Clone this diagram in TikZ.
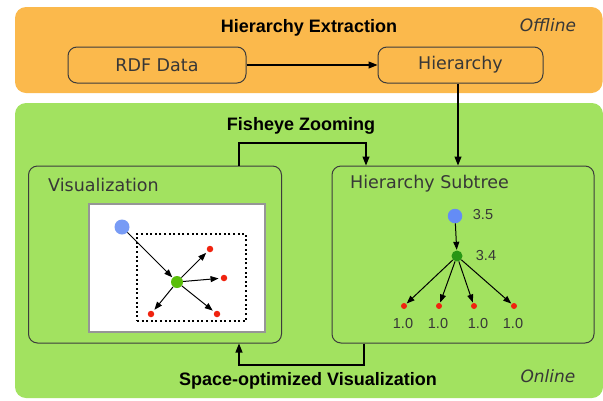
\documentclass[tikz,border=0pt]{standalone}
\usepackage{fontspec}
\setmainfont{DejaVu Sans}
\newfontfamily\arialf{Liberation Sans}
\usetikzlibrary{arrows.meta}
\definecolor{orangep}{RGB}{251,185,76}
\definecolor{greenp}{RGB}{162,226,96}
\definecolor{boxline}{RGB}{60,60,60}
\definecolor{labelc}{RGB}{55,55,55}
\definecolor{bluen}{RGB}{120,155,245}
\definecolor{bluen2}{RGB}{100,140,245}
\definecolor{limen}{RGB}{90,190,10}
\definecolor{darkgn}{RGB}{40,150,20}
\definecolor{redn}{RGB}{240,35,15}
\begin{document}
\begin{tikzpicture}[x=1pt,y=-1pt,
  panel/.style={rounded corners=11pt},
  ibox/.style={draw=boxline, line width=1pt, rounded corners=9pt, inner sep=0pt},
  lbl/.style={font=\fontsize{17.5}{20}\selectfont, text=labelc},
  title/.style={font=\arialf\bfseries\fontsize{18}{21}\selectfont, text=black},
  mode/.style={font=\itshape\fontsize{17}{20}\selectfont, text=labelc},
  num/.style={font=\arialf\fontsize{14.5}{17}\selectfont, text=labelc},
  conn/.style={line width=1.1pt, -{Triangle[length=9pt,width=7pt]}},
  tconn/.style={line width=1pt, -{Triangle[length=8pt,width=6pt]}, shorten >=0.5pt},
  dotn/.style={circle, inner sep=0pt, draw=none}
]
\useasboundingbox (0,0) rectangle (603,400);
\clip (0,0) rectangle (603,400);
% panels
\fill[orangep, panel] (15,7) rectangle (602.5,93);
\fill[greenp, panel] (15,103) rectangle (603,398);
% titles
\node[title] (ttop) at (309,28) {Hierarchy Extraction};
\node[mode] (off) at (548,25) {Offline};
\node[title] (tfish) at (301,126) {Fisheye Zooming};
\node[title] (tspace) at (308,381) {Space-optimized Visualization};
\node[mode] (onl) at (548,376) {Online};
% top boxes
\node[ibox, minimum width=178pt, minimum height=36pt, lbl] (rdf) at (157,65) {RDF Data};
\node[ibox, minimum width=165pt, minimum height=36pt, lbl] (hier) at (460.5,65) {Hierarchy};
% lower boxes
\node[ibox, minimum width=253pt, minimum height=177pt] (vis) at (155,254.5) {};
\node[ibox, minimum width=262pt, minimum height=177pt] (sub) at (463,254.5) {};
\node[lbl, anchor=west, inner sep=0pt] (vislbl) at (48,185) {Visualization};
\node[lbl, anchor=west, inner sep=0pt] (sublbl) at (350,184) {Hierarchy Subtree};
% connectors
\draw[conn] (rdf.east) -- (hier.west);
\draw[conn] (hier.south -| 458,0) -- (sub.north -| 458,0);
\coordinate (f1) at (239,143);
\coordinate (f2) at (366,143);
\draw[conn] (vis.north -| f1) -- (f1) -- (f2) -- (sub.north -| f2);
\coordinate (s1) at (364,365);
\coordinate (s2) at (239,365);
\draw[conn] (sub.south -| s1) -- (s1) -- (s2) -- (vis.south -| s2);
% white canvas
\node[draw={rgb,255:red,150;green,150;blue,150}, fill=white, line width=1.3pt, minimum width=176pt, minimum height=128pt, inner sep=0pt] (canvas) at (177,268) {};
\node[draw=black, line width=1.2pt, dash pattern=on 2pt off 2.6pt, minimum width=109pt, minimum height=87pt, inner sep=0pt] (dotbox) at (191.5,277.5) {};
% graph in canvas
\node[dotn, fill=bluen, minimum size=15pt] (vb) at (122,227) {};
\node[dotn, fill=limen, minimum size=12pt] (vg) at (177,282) {};
\node[dotn, fill=redn, minimum size=6.5pt] (vr1) at (210,249) {};
\node[dotn, fill=redn, minimum size=6.5pt] (vr2) at (224,278) {};
\node[dotn, fill=redn, minimum size=6.5pt] (vr3) at (151,314) {};
\node[dotn, fill=redn, minimum size=6.5pt] (vr4) at (217,314) {};
\draw[tconn] (vb) -- (vg);
\draw[tconn, shorten >=2pt] (vg) -- (vr1);
\draw[tconn, shorten >=2pt] (vg) -- (vr2);
\draw[tconn, shorten >=2pt] (vg) -- (vr3);
\draw[tconn, shorten >=2pt] (vg) -- (vr4);
% subtree
\node[dotn, fill=bluen2, minimum size=14.5pt] (tb) at (455,216) {};
\node[dotn, fill=darkgn, minimum size=11pt] (tg) at (457,256) {};
\node[dotn, fill=redn, minimum size=6pt] (tr1) at (404,306) {};
\node[dotn, fill=redn, minimum size=6pt] (tr2) at (439,306) {};
\node[dotn, fill=redn, minimum size=6pt] (tr3) at (474,306) {};
\node[dotn, fill=redn, minimum size=6pt] (tr4) at (514,306) {};
\draw[tconn] (tb) -- (tg);
\draw[tconn] (tg) -- (tr1);
\draw[tconn] (tg) -- (tr2);
\draw[tconn] (tg) -- (tr3);
\draw[tconn] (tg) -- (tr4);
\node[num] (n35) at (483,215) {3.5};
\node[num] (n34) at (486,256) {3.4};
\node[num] (n1) at (403,324) {1.0};
\node[num] (n2) at (438,324) {1.0};
\node[num] (n3) at (478,324) {1.0};
\node[num] (n4) at (513,324) {1.0};
\end{tikzpicture}
\end{document}
